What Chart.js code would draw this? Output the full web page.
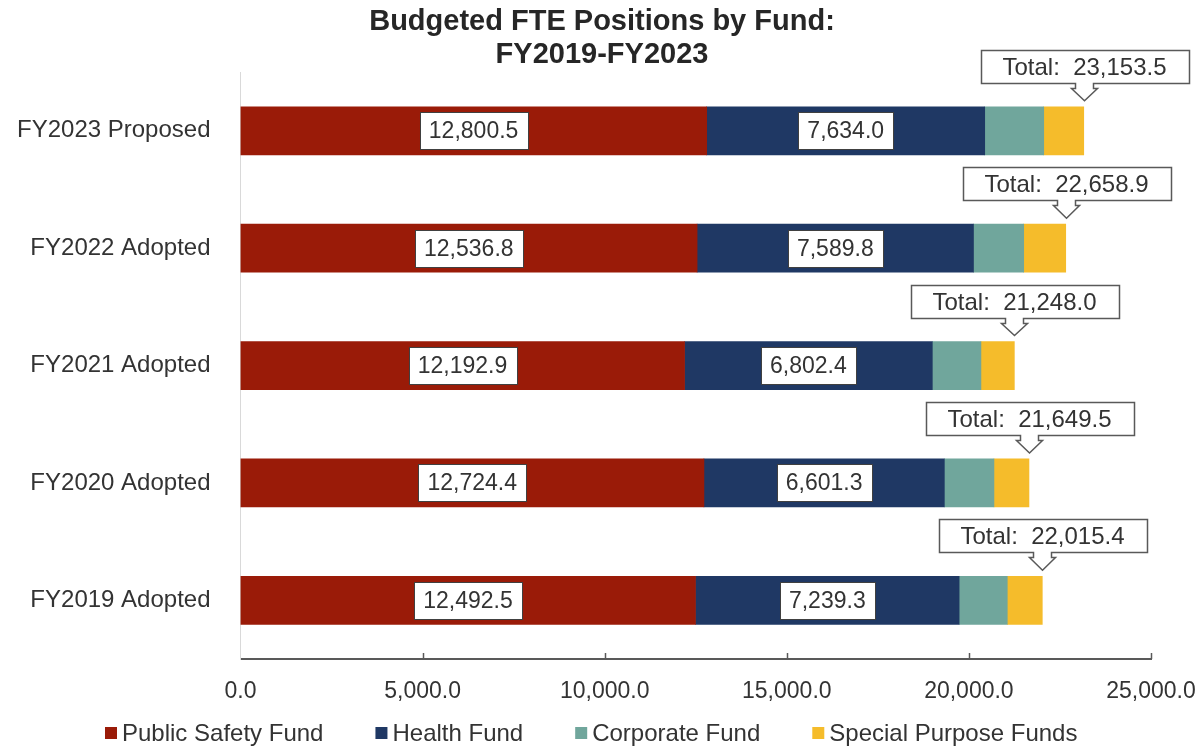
<!DOCTYPE html>
<html>
<head>
<meta charset="utf-8">
<title>Budgeted FTE Positions by Fund</title>
<script src="https://cdn.jsdelivr.net/npm/chart.js@4.4.1/dist/chart.umd.min.js"></script>
<style>
  body { margin: 0; background: #fff; }
  canvas { display: block; }
</style>
</head>
<body>
<canvas id="myChart" width="1204" height="751"></canvas>
<script>
const years = ['FY2023 Proposed', 'FY2022 Adopted', 'FY2021 Adopted', 'FY2020 Adopted', 'FY2019 Adopted'];
const publicSafety = [12800.5, 12536.8, 12192.9, 12724.4, 12492.5];
const health = [7634.0, 7589.8, 6802.4, 6601.3, 7239.3];
const corporate = [1620.0, 1378.0, 1335.0, 1362.0, 1322.0];
const specialPurpose = [1099.0, 1154.3, 917.7, 961.8, 961.6];
const totals = [23153.5, 22658.9, 21248.0, 21649.5, 22015.4];
const xTicks = [0, 5000, 10000, 15000, 20000, 25000];

const fundNames = ['Public Safety Fund', 'Health Fund', 'Corporate Fund', 'Special Purpose Funds'];
const fundColors = ['#9a1b08', '#1f3864', '#70a69c', '#f5bc2b'];

const FONT = "'Liberation Sans', Arial, sans-serif";
const TEXT = '#333333';

function fmt(v) {
    return v.toLocaleString('en-US', { minimumFractionDigits: 1, maximumFractionDigits: 1 });
}

// white boxes on the red and blue segments + callouts with totals
const labelsPlugin = {
    id: 'labels',
    afterDatasetsDraw(chart) {
        const ctx = chart.ctx;
        const xs = chart.scales.x;
        ctx.save();
        ctx.font = '23px ' + FONT;
        ctx.textAlign = 'center';
        ctx.textBaseline = 'middle';
        [0, 1].forEach(di => {
            chart.getDatasetMeta(di).data.forEach((bar, i) => {
                const p = bar.getProps(['x', 'y', 'base'], true);
                const cx = (p.x + p.base) / 2;
                const txt = fmt(chart.data.datasets[di].data[i]);
                const w = Math.round(ctx.measureText(txt).width + 18);
                const h = 37;
                const l = Math.round(cx - w / 2) + 0.5, t = Math.round(p.y - h / 2) + 0.5;
                ctx.fillStyle = '#fff';
                ctx.fillRect(l, t, w, h);
                ctx.strokeStyle = '#404040';
                ctx.lineWidth = 1;
                ctx.strokeRect(l, t, w, h);
                ctx.fillStyle = TEXT;
                ctx.fillText(txt, cx, p.y + 1);
            });
        });

        // total callouts
        ctx.font = '24px ' + FONT;
        const meta = chart.getDatasetMeta(0);
        totals.forEach((t, i) => {
            const y = meta.data[i].y;
            const cx = Math.round(xs.getPixelForValue(t)) + 0.5;
            const txt = 'Total:  ' + fmt(t);
            const w = Math.round(ctx.measureText(txt).width + 44);
            const bottom = Math.round(y - 48) + 0.5;
            const top = bottom - 33;
            const left = Math.round(cx - w / 2) + 0.5;
            const right = left + w;
            const tip = y - 30;
            ctx.beginPath();
            ctx.moveTo(cx - 9, bottom);
            ctx.lineTo(left, bottom);
            ctx.lineTo(left, top);
            ctx.lineTo(right, top);
            ctx.lineTo(right, bottom);
            ctx.lineTo(cx + 9, bottom);
            ctx.lineTo(cx + 9, bottom + 5);
            ctx.lineTo(cx + 13, bottom + 5);
            ctx.lineTo(cx, tip);
            ctx.lineTo(cx - 13, bottom + 5);
            ctx.lineTo(cx - 9, bottom + 5);
            ctx.closePath();
            ctx.fillStyle = '#fff';
            ctx.fill();
            ctx.strokeStyle = '#595959';
            ctx.lineWidth = 1.5;
            ctx.stroke();
            ctx.fillStyle = TEXT;
            ctx.fillText(txt, cx, (top + bottom) / 2 + 1);
        });
        ctx.restore();
    },
    afterDraw(chart) {
        const ctx = chart.ctx;
        const xs = chart.scales.x;
        const area = chart.chartArea;
        ctx.save();
        // inward tick marks on the x axis
        ctx.strokeStyle = '#595959';
        ctx.lineWidth = 1.5;
        xTicks.forEach(v => {
            if (v === 0) return;
            const x = Math.round(xs.getPixelForValue(v)) + 0.5;
            ctx.beginPath();
            ctx.moveTo(x, area.bottom);
            ctx.lineTo(x, area.bottom - 6);
            ctx.stroke();
        });

        // legend
        ctx.font = '24px ' + FONT;
        ctx.textBaseline = 'middle';
        ctx.textAlign = 'left';
        const box = 12, gapText = 5, gapItem = 52;
        const widths = fundNames.map(n => box + gapText + ctx.measureText(n).width);
        const total = widths.reduce((a, b) => a + b, 0) + gapItem * (fundNames.length - 1);
        let x = Math.round(591 - total / 2);
        const y = 733;
        fundNames.forEach((n, i) => {
            ctx.fillStyle = fundColors[i];
            ctx.fillRect(x, y - box / 2, box, box);
            ctx.fillStyle = TEXT;
            ctx.fillText(n, x + box + gapText, y + 1);
            x += widths[i] + gapItem;
        });
        ctx.restore();
    }
};

const data = {
    labels: years,
    datasets: [publicSafety, health, corporate, specialPurpose].map((d, i) => ({
        label: fundNames[i],
        data: d,
        backgroundColor: fundColors[i],
        barThickness: 48
    }))
};

const config = {
    type: 'bar',
    data: data,
    options: {
        indexAxis: 'y',
        responsive: false,
        animation: false,
        layout: {
            padding: { left: 0, right: 0, top: 0, bottom: 48 }
        },
        plugins: {
            legend: { display: false },
            tooltip: { enabled: false },
            title: {
                display: true,
                text: ['Budgeted FTE Positions by Fund:', 'FY2019-FY2023'],
                color: '#262626',
                font: { family: FONT, size: 29, weight: 'bold', lineHeight: 1.14 },
                padding: { top: 5, bottom: 1 }
            }
        },
        scales: {
            x: {
                stacked: true,
                min: 0,
                max: 25000,
                afterFit(scale) {
                    scale.height = 44;
                    scale.paddingLeft = 0;
                    scale.paddingRight = 53;
                },
                afterBuildTicks(scale) { scale.ticks = xTicks.map(v => ({ value: v })); },
                grid: { display: false, drawTicks: false },
                border: { display: true, color: '#595959', width: 2 },
                ticks: {
                    padding: 19,
                    color: TEXT,
                    font: { family: FONT, size: 23 },
                    callback: v => fmt(v)
                }
            },
            y: {
                stacked: true,
                afterFit(scale) { scale.width = 240.5; },
                grid: { display: false, drawTicks: false },
                border: { display: true, color: '#d9d9d9', width: 1 },
                ticks: {
                    padding: 30,
                    color: TEXT,
                    font: { family: FONT, size: 24 }
                }
            }
        }
    },
    plugins: [labelsPlugin]
};

let myChart = new Chart(document.getElementById('myChart').getContext('2d'), config);
</script>
</body>
</html>
